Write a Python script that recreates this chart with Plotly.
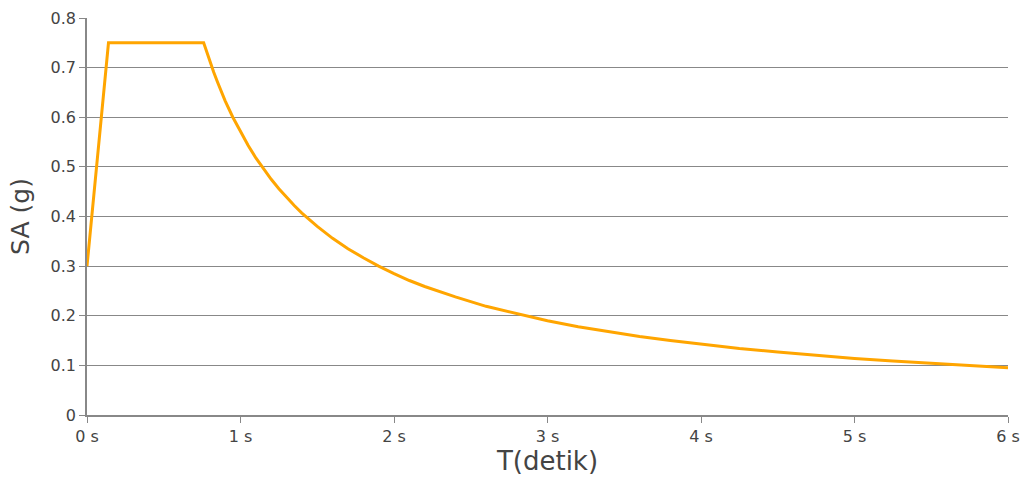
import plotly.graph_objects as go

# Period T (s) and spectral acceleration SA (g)
period = [0.0, 0.14, 0.76, 0.78, 0.8, 0.825, 0.85, 0.875, 0.9, 0.95, 1.0, 1.05, 1.1,
          1.15, 1.2, 1.25, 1.3, 1.35, 1.4, 1.5, 1.6, 1.7, 1.8, 1.9, 2.0, 2.1, 2.2,
          2.4, 2.6, 2.8, 3.0, 3.2, 3.4, 3.6, 3.8, 4.0, 4.25, 4.5, 4.75, 5.0, 5.25,
          5.5, 5.75, 6.0]
sa = [0.30, 0.75, 0.75, 0.731, 0.713, 0.691, 0.671, 0.651, 0.633, 0.60, 0.57, 0.543,
      0.518, 0.496, 0.475, 0.456, 0.438, 0.422, 0.407, 0.38, 0.356, 0.335, 0.317,
      0.30, 0.285, 0.271, 0.259, 0.238, 0.219, 0.204, 0.19, 0.178, 0.168, 0.158,
      0.15, 0.143, 0.134, 0.127, 0.12, 0.114, 0.109, 0.104, 0.099, 0.095]

x_ticks = [0, 1, 2, 3, 4, 5, 6]
x_labels = ["0 s", "1 s", "2 s", "3 s", "4 s", "5 s", "6 s"]
y_ticks = [0, 0.1, 0.2, 0.3, 0.4, 0.5, 0.6, 0.7, 0.8]
y_labels = ["0", "0.1", "0.2", "0.3", "0.4", "0.5", "0.6", "0.7", "0.8"]

fig = go.Figure()
fig.add_trace(go.Scatter(
    x=period, y=sa, mode="lines",
    line=dict(color="#FFA500", width=3),
    hoverinfo="x+y", showlegend=False,
))

font = "DejaVu Sans, Verdana, sans-serif"
grey = "#888888"
txt = "#444444"
fig.update_layout(
    width=1024, height=479,
    margin=dict(l=87, r=16, t=18, b=64),
    paper_bgcolor="white", plot_bgcolor="white",
    font=dict(family=font, color=txt, size=16),
)
fig.update_xaxes(
    range=[0, 6], tickmode="array", tickvals=x_ticks, ticktext=x_labels,
    showgrid=False, zeroline=False, automargin=False,
    showline=True, linecolor=grey, linewidth=1.5,
    ticks="outside", ticklen=6, tickcolor=grey,
    tickfont=dict(size=16, color=txt),
    title=dict(text="T(detik)", font=dict(size=26, color=txt), standoff=2),
)
fig.update_yaxes(
    range=[0, 0.8], tickmode="array", tickvals=y_ticks, ticktext=y_labels,
    showgrid=True, gridcolor=grey, gridwidth=1.2, zeroline=False, automargin=False,
    showline=True, linecolor=grey, linewidth=1.5,
    ticks="outside", ticklen=6, tickcolor=grey,
    tickfont=dict(size=16, color=txt),
    title=dict(text="SA (g)", font=dict(size=25, color=txt), standoff=14),
)

fig.write_html("out.html", config={"displayModeBar": False},
               post_script="document.body.style.margin='0';")
